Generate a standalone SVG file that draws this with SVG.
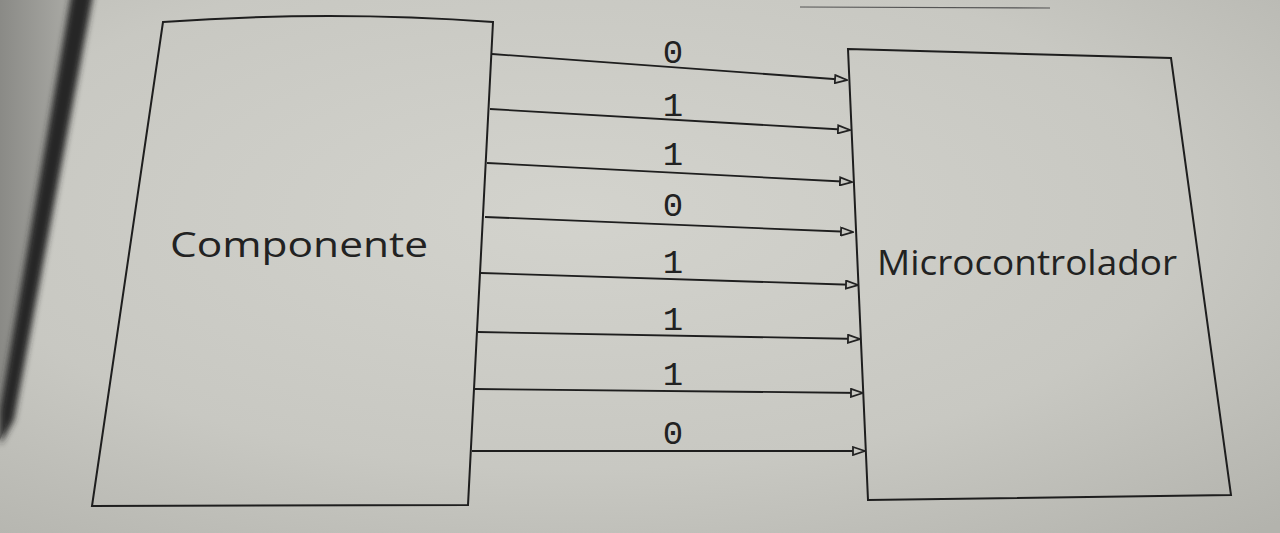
<svg xmlns="http://www.w3.org/2000/svg" width="1280" height="533" viewBox="0 0 1280 533">
<defs>
<radialGradient id="paper" cx="0.45" cy="0.4" r="0.8">
<stop offset="0" stop-color="#d3d3cd"/>
<stop offset="0.6" stop-color="#c8c8c2"/>
<stop offset="1" stop-color="#b3b3ad"/>
</radialGradient>
<linearGradient id="edge" x1="0" y1="0" x2="1" y2="0">
<stop offset="0" stop-color="#8a8a86"/>
<stop offset="1" stop-color="#adada8"/>
</linearGradient>
<filter id="blur" x="-50%" y="-10%" width="200%" height="120%">
<feGaussianBlur stdDeviation="3"/>
</filter>
<marker id="arr" viewBox="0 0 14 10" refX="13" refY="5" markerWidth="14" markerHeight="10" markerUnits="userSpaceOnUse" orient="auto">
<path d="M1,1 L13,5 L1,9 Z" fill="#c8c8c2" stroke="#222" stroke-width="1.8"/>
</marker>
<style>
.box{fill:none;stroke:#1e1e1e;stroke-width:2;stroke-linejoin:miter}
.wire{fill:none;stroke:#1e1e1e;stroke-width:1.8;marker-end:url(#arr)}
.lbl{font-family:"Open Sans","Noto Sans",sans-serif;font-size:34px;fill:#222}
.bit{font-family:"Liberation Mono","DejaVu Sans Mono",monospace;font-size:34px;fill:#222;text-anchor:middle}
</style>
</defs>
<rect x="0" y="0" width="1280" height="533" fill="url(#paper)"/>
<path d="M0,0 L78,0 L4,430 L0,440 Z" fill="url(#edge)"/>
<path d="M72,-10 L94,-10 L14,420 L0,445 L0,410 Z" fill="#262626" filter="url(#blur)"/>
<line x1="800" y1="7" x2="1050" y2="8" stroke="#555" stroke-width="1.2"/>

<g id="componente">
<path class="box" d="M163,22 Q330,10 493,22 L468,505 L92,506 Z"/>
<text class="lbl" x="170" y="257" textLength="258" lengthAdjust="spacingAndGlyphs">Componente</text>
</g>

<g id="microcontrolador">
<path class="box" d="M848,49 L1171,58 L1231,495 L868,500 Z"/>
<text class="lbl" x="877" y="275" textLength="300" lengthAdjust="spacingAndGlyphs">Microcontrolador</text>
</g>

<g id="connectors">
<line class="wire" x1="492" y1="54" x2="847" y2="80"/>
<line class="wire" x1="490" y1="109" x2="850" y2="130"/>
<line class="wire" x1="487" y1="163" x2="852" y2="182"/>
<line class="wire" x1="485" y1="217" x2="853" y2="232"/>
<line class="wire" x1="481" y1="273" x2="858" y2="285"/>
<line class="wire" x1="478" y1="332" x2="860" y2="339"/>
<line class="wire" x1="475" y1="389" x2="863" y2="393"/>
<line class="wire" x1="472" y1="451" x2="865" y2="451"/>
</g>

<g id="bits">
<text class="bit" x="673" y="63">0</text>
<text class="bit" x="673" y="116">1</text>
<text class="bit" x="673" y="165">1</text>
<text class="bit" x="673" y="216">0</text>
<text class="bit" x="673" y="273">1</text>
<text class="bit" x="673" y="330">1</text>
<text class="bit" x="673" y="385">1</text>
<text class="bit" x="673" y="444">0</text>
</g>
</svg>
